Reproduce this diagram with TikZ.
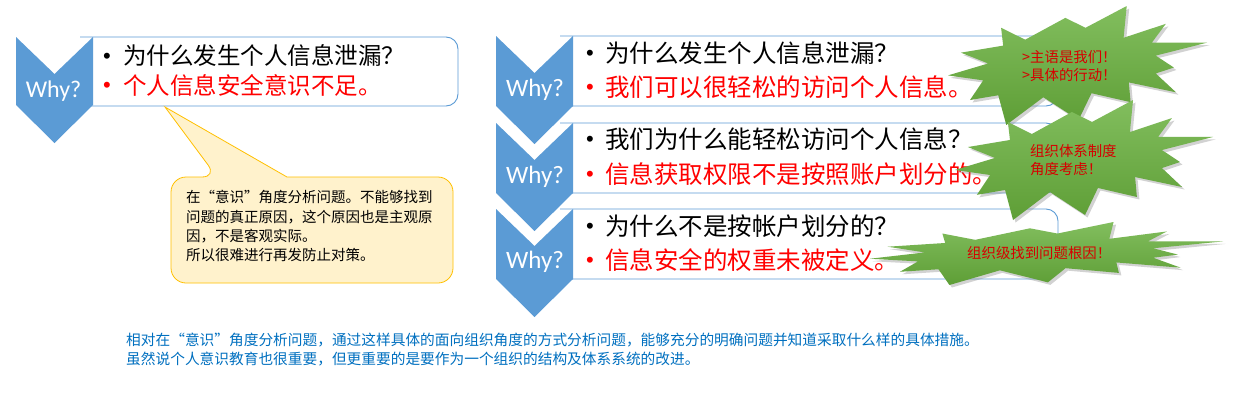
\documentclass[tikz,border=0pt]{standalone}
\usepackage{fontspec}
\newfontfamily\cjk{Noto Sans CJK SC}
\newfontfamily\whyfont{Carlito}
\newfontfamily\bulfont{Liberation Sans}
\usetikzlibrary{shadows}
\definecolor{chev}{RGB}{91,155,213}
\definecolor{calfill}{RGB}{255,242,204}
\definecolor{calline}{RGB}{255,192,0}
\definecolor{bottomblue}{RGB}{0,112,192}
\definecolor{startop}{RGB}{130,190,94}
\definecolor{starbot}{RGB}{94,158,54}
\definecolor{txtred}{RGB}{255,0,0}
\definecolor{starred}{RGB}{215,0,0}
\tikzset{
  boxshape/.style={draw=chev, line width=0.9pt, fill=white},
  whytext/.style={text=white, font=\whyfont\fontsize{25}{25}\selectfont, anchor=base, inner sep=0pt},
  whysmall/.style={whytext, font=\whyfont\fontsize{24}{24}\selectfont},
  qtext/.style={font=\cjk\fontsize{24.5}{30}\selectfont, anchor=base west, inner sep=0pt, text=black},
  atext/.style={qtext, text=txtred},
  qsmall/.style={qtext, font=\cjk\fontsize{23.5}{30}\selectfont},
  asmall/.style={qsmall, text=txtred},
  bulq/.style={font=\bulfont\fontsize{22}{22}\selectfont, anchor=base, inner sep=0pt, text=black},
  bula/.style={bulq, text=txtred},
  caltext/.style={font=\cjk\fontsize{14.5}{19}\selectfont, anchor=base west, inner sep=0pt, text=black},
  startext/.style={font=\cjk\fontsize{14.4}{18}\selectfont, anchor=base west, inner sep=0pt, text=starred},
  bottext/.style={font=\cjk\fontsize{14.7}{19}\selectfont, anchor=base west, inner sep=0pt, text=bottomblue},
  boomstyle/.style={top color=startop, bottom color=starbot,
     drop shadow={shadow xshift=2.5pt, shadow yshift=-2.5pt, opacity=0.35}},
  callshape/.style={fill=calfill, draw=calline, line width=0.8pt},
}
% chevron: x0, ytop, ybottom of the straight part
\newcommand\chevron[3]{%
  \fill[chev] (#1,#2) -- ({#1+38.5},{#2+37}) -- ({#1+77},#2) -- ({#1+77},#3)
     -- ({#1+38.5},{#3+38}) -- (#1,#3) -- cycle;}
% explosion: x0, y0, w, h
\newcommand\boom[4]{%
  \path[boomstyle]
   ({#1+0.205*#3},{#2+0.183*#4}) -- ({#1+0.298*#3},{#2+0.283*#4}) --
   ({#1+0.453*#3},{#2+0.100*#4}) -- ({#1+0.531*#3},{#2+0.183*#4}) --
   ({#1+0.690*#3},{#2+0.000*#4}) -- ({#1+0.678*#3},{#2+0.267*#4}) --
   ({#1+0.841*#3},{#2+0.150*#4}) -- ({#1+0.787*#3},{#2+0.308*#4}) --
   ({#1+1.000*#3},{#2+0.308*#4}) -- ({#1+0.802*#3},{#2+0.417*#4}) --
   ({#1+0.872*#3},{#2+0.517*#4}) -- ({#1+0.802*#3},{#2+0.567*#4}) --
   ({#1+0.880*#3},{#2+0.725*#4}) -- ({#1+0.698*#3},{#2+0.642*#4}) --
   ({#1+0.705*#3},{#2+0.808*#4}) -- ({#1+0.554*#3},{#2+0.733*#4}) --
   ({#1+0.504*#3},{#2+0.958*#4}) -- ({#1+0.368*#3},{#2+0.767*#4}) --
   ({#1+0.225*#3},{#2+1.000*#4}) -- ({#1+0.194*#3},{#2+0.750*#4}) --
   ({#1+0.085*#3},{#2+0.790*#4}) -- ({#1+0.136*#3},{#2+0.625*#4}) --
   ({#1+0.000*#3},{#2+0.583*#4}) -- ({#1+0.155*#3},{#2+0.483*#4}) --
   ({#1+0.050*#3},{#2+0.392*#4}) -- ({#1+0.213*#3},{#2+0.333*#4}) -- cycle;}
\begin{document}
\begin{tikzpicture}[x=1pt, y=-1pt]
\fill[white] (0,0) rectangle (1234,410);
\useasboundingbox (0,0) rectangle (1234,410);

% ---------------- left group ----------------
\draw[boxshape] (80,37) [rounded corners=12pt] -- (458,37) -- (458,106) -- (80,106);
\chevron{16}{37}{105}
\node[whysmall] (lwhy) at (53.5,97) {Why?};
\node[bulq] (lb1) at (107,63) {•};
\node[qsmall] (lq1) at (123,64.5) {为什么发生个人信息泄漏？};
\node[bula] (lb2) at (107,92.5) {•};
\node[asmall] (la1) at (123,94) {个人信息安全意识不足。};

% callout
\draw[callshape] (171,230) [rounded corners=15pt] -- (171,177) -- (217,177)
   [sharp corners] -- (165,107) -- (287,177) [rounded corners=15pt] -- (453,177)
   -- (453,283) -- (171,283) -- cycle;
\node[caltext] (c1) at (186,202.2) {在“意识”角度分析问题。不能够找到};
\node[caltext] (c2) at (186,222.2) {问题的真正原因，这个原因也是主观原};
\node[caltext] (c3) at (186,241.5) {因，不是客观实际。};
\node[caltext] (c4) at (186,260.5) {所以很难进行再发防止对策。};

% ---------------- right group ----------------
\draw[boxshape] (560,36) [rounded corners=12pt] -- (1058,36) -- (1058,106) -- (560,106);
\draw[boxshape] (560,123) [rounded corners=12pt] -- (1058,123) -- (1058,193) -- (560,193);
\draw[boxshape] (560,209) [rounded corners=12pt] -- (1058,209) -- (1058,279) -- (560,279);
\chevron{496}{36}{106}
\chevron{496}{123}{193}
\chevron{496}{209}{279}
\node[whytext] (w1) at (535,96) {Why?};
\node[whytext] (w2) at (535,183) {Why?};
\node[whytext] (w3) at (535,268) {Why?};

\node[bulq] (b11) at (590,60.5) {•};
\node[qtext] (q1) at (605,62.3) {为什么发生个人信息泄漏？};
\node[bula] (b12) at (590,94.5) {•};
\node[atext] (a1) at (605,96.3) {我们可以很轻松的访问个人信息。};

\node[bulq] (b21) at (590,146.5) {•};
\node[qtext] (q2) at (605,148.3) {我们为什么能轻松访问个人信息？};
\node[bula] (b22) at (590,181.5) {•};
\node[atext] (a2) at (605,183.3) {信息获取权限不是按照账户划分的。};

\node[bulq] (b31) at (590,233) {•};
\node[qtext] (q3) at (605,235) {为什么不是按帐户划分的？};
\node[bula] (b32) at (590,267.5) {•};
\node[atext] (a3) at (605,269.3) {信息安全的权重未被定义。};

% explosions
\boom{948}{6}{259}{119}
\node[startext] (s1a) at (1022,62) {>主语是我们！};
\node[startext] (s1b) at (1022,80.3) {>具体的行动！};
\boom{955}{100}{258}{120}
\node[startext] (s2a) at (1030,156) {组织体系制度};
\node[startext] (s2b) at (1030,174.3) {角度考虑！};
\boom{870}{222}{353}{63}
\node[startext] (s3) at (967,258.6) {组织级找到问题根因！};

% bottom text
\node[bottext] (t1) at (126,345.6) {相对在“意识”角度分析问题，通过这样具体的面向组织角度的方式分析问题，能够充分的明确问题并知道采取什么样的具体措施。};
\node[bottext] (t2) at (126,364.6) {虽然说个人意识教育也很重要，但更重要的是要作为一个组织的结构及体系系统的改进。};
\end{tikzpicture}
\end{document}
